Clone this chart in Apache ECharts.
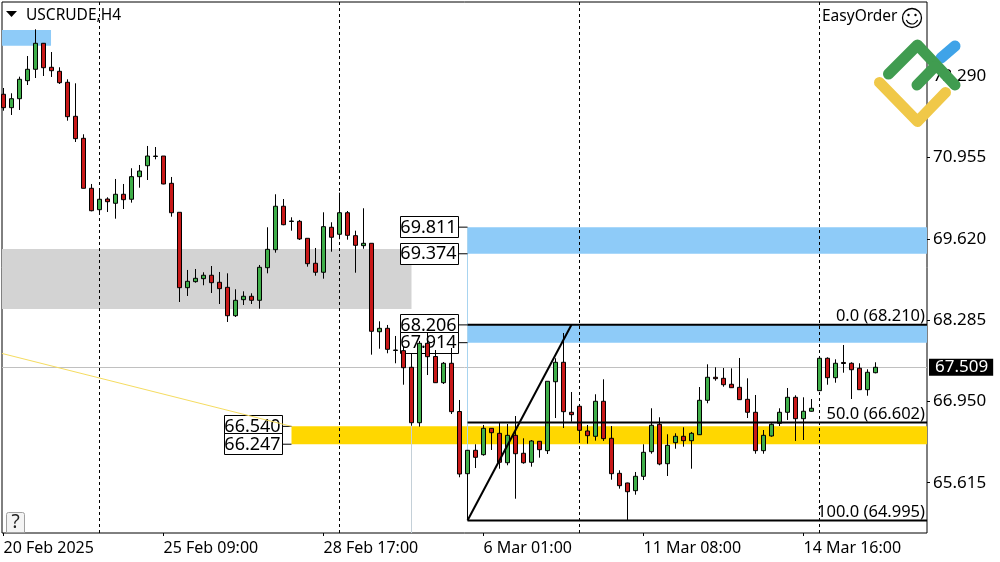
<!DOCTYPE html>
<html lang="en">
<head>
    <meta charset="UTF-8">
    <title>USCRUDE,H4</title>
    <script src="https://cdn.jsdelivr.net/npm/echarts@6/dist/echarts.min.js"></script>
    <style>
        html, body { margin: 0; padding: 0; background: #fff; }
    </style>
</head>
<body>
<div id="main" style="width: 1000px;height:562px;"></div>
<script>
    // one bar every 4 hours
    var opens = [71.993,71.773,71.920,72.216,72.403,72.830,72.436,72.370,72.190,71.631,71.270,70.449,70.098,70.273,70.203,70.351,70.269,70.640,70.820,70.971,
        70.979,70.531,70.055,68.817,68.916,68.965,69.021,68.906,68.823,68.357,68.620,68.676,68.610,69.145,69.441,70.154,69.904,69.907,69.628,69.218,
        69.070,69.809,69.694,70.048,69.671,69.507,69.546,68.094,68.150,67.786,67.783,67.510,66.600,67.904,67.687,67.257,67.576,66.784,65.763,66.147,
        66.075,66.508,66.426,65.943,66.393,66.098,65.950,66.295,66.141,67.273,67.592,66.771,66.870,66.464,66.377,66.952,66.344,65.769,65.610,65.484,
        65.720,66.124,66.574,65.927,66.272,66.377,66.305,66.403,66.968,67.346,67.329,67.231,67.181,66.984,66.771,66.141,66.382,66.590,66.771,67.017,
        66.666,66.788,67.126,67.658,67.339,67.589,67.576,67.494,67.142,67.421];
    var closes = [71.773,71.920,72.239,72.403,72.830,72.429,72.380,72.183,71.625,71.264,70.449,70.081,70.269,70.229,70.351,70.262,70.640,70.733,70.979,70.979,
        70.520,70.048,68.817,68.922,68.971,69.021,68.899,68.801,68.357,68.610,68.676,68.610,69.152,69.447,70.154,69.851,69.912,69.617,69.211,69.070,
        69.819,69.645,70.048,69.677,69.513,69.546,68.101,68.150,67.805,67.794,67.503,66.600,67.904,67.684,67.257,67.576,66.781,65.758,66.147,66.032,
        66.508,66.436,65.950,66.393,66.091,65.943,66.300,66.157,67.280,67.592,66.781,66.732,66.475,66.387,66.952,66.338,65.763,65.566,65.467,65.720,
        66.114,66.558,65.922,66.229,66.377,66.305,66.426,66.968,67.346,67.323,67.224,67.175,66.978,66.771,66.141,66.393,66.574,66.771,67.017,66.666,
        66.788,66.837,67.658,67.339,67.576,67.572,67.470,67.142,67.428,67.510];
    var lows = [71.723,71.653,71.735,72.145,72.260,72.293,72.277,72.162,71.559,71.209,70.446,70.071,70.011,70.060,69.950,70.109,70.213,70.459,70.585,70.925,
        70.515,69.983,68.582,68.681,68.899,68.857,68.730,68.549,68.254,68.336,68.533,68.549,68.472,69.053,69.392,69.842,69.753,69.600,69.162,69.014,
        68.965,69.408,69.612,69.605,69.063,69.457,67.717,67.815,67.740,67.576,67.224,66.551,66.535,67.383,67.252,67.236,66.743,65.704,65.003,65.856,
        66.058,66.152,65.845,65.901,65.352,65.927,65.878,66.026,66.086,66.677,66.513,66.617,66.272,66.255,66.305,66.300,65.664,65.517,65.003,65.418,
        65.659,66.091,65.901,65.725,66.173,66.206,65.845,66.398,66.919,67.290,67.191,67.170,66.973,66.677,66.091,66.091,66.370,66.546,66.645,66.300,
        66.316,66.781,67.121,67.224,67.257,67.421,66.989,67.137,67.043,67.411];
    var highs = [72.096,72.009,72.282,72.621,73.060,72.835,72.687,72.436,72.239,72.173,71.336,70.520,70.449,70.301,70.602,70.520,70.778,70.832,71.144,71.127,
        70.979,70.635,70.055,69.108,69.124,69.070,69.173,69.075,69.053,68.791,68.758,68.725,69.190,69.809,70.351,70.273,69.973,69.929,69.628,69.469,
        70.055,69.891,70.377,70.076,69.753,70.121,69.546,68.265,68.205,68.024,67.848,67.740,67.942,68.073,67.794,67.597,67.827,66.973,66.152,66.246,
        66.563,66.513,66.600,66.579,66.710,66.344,66.316,66.300,67.280,67.658,68.073,67.104,66.891,66.563,67.067,67.313,66.546,65.819,65.615,65.791,
        66.246,66.837,66.689,66.410,66.426,66.525,66.448,67.186,67.559,67.510,67.498,67.493,67.663,67.329,67.055,66.480,66.590,66.837,67.170,67.050,
        67.017,66.989,67.679,67.674,67.641,67.876,67.592,67.576,67.477,67.592];

    var priceTicks = [65.615, 66.950, 68.285, 69.620, 70.955, 72.290];
    var timeTickBars = [0, 20, 40, 60, 80, 100];
    var timeTickLabels = ['20 Feb 2025', '25 Feb 09:00', '28 Feb 17:00', '6 Mar 01:00', '11 Mar 08:00', '14 Mar 16:00'];
    var separatorBars = [12, 42, 72, 102];
    var lastPrice = 67.509;

    var xMin = -0.1875, xMax = 115.4375;
    var yMin = 64.789, yMax = 73.508;

    // zones: [first bar, last bar, upper price, lower price]
    var greyZones = [[xMin, 51, 69.452, 68.467]];
    var blueZones = [[xMin, 5.94, 73.048, 72.791], [58, xMax, 69.811, 69.374], [58, xMax, 68.206, 67.914]];
    var yellowZones = [[36, xMax, 66.540, 66.247]];

    // price tags at the left end of the zones
    var tagBars = [58, 58, 58, 58, 36, 36];
    var tagPrices = [69.811, 69.374, 68.206, 67.914, 66.540, 66.247];

    // fibo tool
    var fiboLevels = ['0.0', '50.0', '100.0'];
    var fiboPrices = [68.210, 66.602, 64.995];
    var fiboStartBar = 58, fiboTopBar = 71;

    var trendBars = [xMin, 36];
    var trendPrices = [67.737, 66.540];

    var labelFont = '"Noto Sans", sans-serif';

    var candleData = [];
    for (var i = 0; i < opens.length; i++) {
        candleData.push([i, opens[i], closes[i], lows[i], highs[i]]);
    }

    function zoneData(list) {
        return list.map(function (z) {
            return [{xAxis: z[0], yAxis: z[2]}, {xAxis: z[1], yAxis: z[3]}];
        });
    }

    function zoneSeries(list, color) {
        return {
            type: 'line', data: [], silent: true, z: 1,
            markArea: {silent: true, z: 1, itemStyle: {color: color}, data: zoneData(list)}
        };
    }

    function levelLine(bars, prices, color, width) {
        return {
            type: 'line', z: 4, symbol: 'none', silent: true, animation: false,
            lineStyle: {color: color, width: width},
            data: bars.map(function (b, k) { return [b, prices[k]]; })
        };
    }

    function renderTag(params, api) {
        var p = api.coord([api.value(0), api.value(1)]);
        var right = p[0] - 10;
        return {
            type: 'group',
            children: [
                {type: 'line', shape: {x1: right, y1: p[1], x2: p[0], y2: p[1]}, style: {stroke: '#000', lineWidth: 1}},
                {type: 'rect', shape: {x: Math.round(right - 58) + 0.5, y: Math.round(p[1] - 11) + 0.5, width: 58, height: 21},
                    style: {fill: '#fff', stroke: '#000', lineWidth: 1}},
                {type: 'text', style: {text: api.value(1).toFixed(3), x: right - 29, y: p[1] + 0.5, fill: '#000',
                    font: '18px ' + labelFont, align: 'center', verticalAlign: 'middle'}}
            ]
        };
    }

    function renderFiboLabel(params, api) {
        var p = api.coord([xMax, api.value(1)]);
        return {
            type: 'text',
            style: {text: fiboLevels[params.dataIndex] + ' (' + api.value(1).toFixed(3) + ')', x: p[0] - 2, y: p[1],
                fill: '#000', font: '16.5px ' + labelFont, align: 'right', verticalAlign: 'bottom'}
        };
    }

    var series = [
        zoneSeries(greyZones, '#d3d3d3'),
        zoneSeries(blueZones, '#8ecbf8'),
        zoneSeries(yellowZones, '#ffd700'),
        {
            // separators and last price line
            type: 'line', data: [], silent: true, z: 2,
            markLine: {
                silent: true, symbol: 'none', z: 2, animation: false,
                data: separatorBars.map(function (b) {
                    return {xAxis: b, lineStyle: {color: '#000', type: [3, 3], width: 1}, label: {show: false}};
                }).concat([{
                    yAxis: lastPrice, lineStyle: {color: '#c0c0c0', type: 'solid', width: 1},
                    label: {
                        show: true, position: 'end', distance: 2, formatter: lastPrice.toFixed(3),
                        color: '#fff', backgroundColor: '#000', padding: [0, 5, 0, 6],
                        fontFamily: 'Noto Sans', fontSize: 17
                    }
                }])
            }
        },
        {
            // crosshair stubs
            type: 'line', z: 2, symbol: 'none', silent: true,
            lineStyle: {color: '#c4d0d8', width: 1},
            data: [[51, lastPrice], [51, yMin]]
        },
        {
            type: 'line', z: 2, symbol: 'none', silent: true,
            lineStyle: {color: '#a8d4f0', width: 1},
            data: [[58, 69.811], [58, 66.152]]
        },
        levelLine(trendBars, trendPrices, '#f5dc60', 1),
        {
            type: 'custom', z: 2.5, silent: true, renderItem: renderTag, clip: false,
            encode: {x: 0, y: 1},
            data: tagBars.map(function (b, k) { return [b, tagPrices[k]]; })
        },
        {
            type: 'candlestick', z: 3, barWidth: 5, silent: true, animation: false,
            itemStyle: {
                color: '#3fae49', color0: '#c81818',
                borderColor: '#000', borderColor0: '#000', borderColorDoji: '#000', borderWidth: 1
            },
            data: candleData
        },
        levelLine([fiboStartBar, xMax], [fiboPrices[0], fiboPrices[0]], '#000', 2),
        levelLine([fiboStartBar, xMax], [fiboPrices[1], fiboPrices[1]], '#000', 2),
        levelLine([fiboStartBar, xMax], [fiboPrices[2], fiboPrices[2]], '#000', 2),
        levelLine([fiboStartBar, fiboTopBar], [fiboPrices[2], fiboPrices[0]], '#000', 2),
        {
            type: 'custom', z: 4, silent: true, renderItem: renderFiboLabel, clip: false,
            encode: {x: 0, y: 1},
            data: fiboPrices.map(function (v) { return [xMax, v]; })
        }
    ];

    var graphic = [
        {type: 'polygon', z: 10, shape: {points: [[6, 11], [17, 11], [11.5, 17]]}, style: {fill: '#000'}},
        {type: 'text', z: 10, style: {text: 'USCRUDE,H4', x: 26, y: 15.5, fill: '#000', font: '15.5px ' + labelFont, verticalAlign: 'middle'}},
        {type: 'text', z: 10, style: {text: 'EasyOrder', x: 822, y: 16.5, fill: '#000', font: '15.5px ' + labelFont, verticalAlign: 'middle'}},
        // smiley
        {type: 'circle', z: 10, shape: {cx: 912, cy: 18, r: 9.5}, style: {fill: 'none', stroke: '#000', lineWidth: 1.3}},
        {type: 'circle', z: 10, shape: {cx: 908.5, cy: 15, r: 1.2}, style: {fill: '#000'}},
        {type: 'circle', z: 10, shape: {cx: 915.5, cy: 15, r: 1.2}, style: {fill: '#000'}},
        {type: 'arc', z: 10, shape: {cx: 912, cy: 18, r: 6, startAngle: 0.35, endAngle: Math.PI - 0.35}, style: {fill: 'none', stroke: '#000', lineWidth: 1.2}},
        // help button
        {type: 'rect', z: 10, shape: {x: 6.5, y: 512.5, width: 18, height: 20, r: [2, 2, 0, 0]}, style: {fill: '#f4f4f4', stroke: '#a0a0a0', lineWidth: 1}},
        {type: 'text', z: 10, style: {text: '?', x: 15.5, y: 523, fill: '#222', font: '19px ' + labelFont, align: 'center', verticalAlign: 'middle'}},
        // logo
        {type: 'polyline', z: 20, shape: {points: [[941, 58], [955, 46]]}, style: {fill: 'none', stroke: '#3fa3e8', lineWidth: 11, lineCap: 'round'}},
        {type: 'polyline', z: 21, shape: {points: [[888.5, 74], [917.5, 45], [955, 85]]}, style: {fill: 'none', stroke: '#409c50', lineWidth: 11, lineCap: 'round', lineJoin: 'round'}},
        {type: 'polyline', z: 21, shape: {points: [[917, 85], [935, 66.5]]}, style: {fill: 'none', stroke: '#409c50', lineWidth: 11, lineCap: 'round'}},
        {type: 'polyline', z: 21, shape: {points: [[879.5, 82.5], [917.5, 121.5], [945.5, 92.5]]}, style: {fill: 'none', stroke: '#f0c848', lineWidth: 11, lineCap: 'round', lineJoin: 'round'}}
    ];

    var myChart = echarts.init(document.getElementById('main'));
    var option = {
        animation: false,
        backgroundColor: '#fff',
        grid: {left: 2, top: 2, right: 73, bottom: 29, show: true, borderColor: '#000', borderWidth: 1, backgroundColor: '#fff'},
        xAxis: {
            type: 'value', min: xMin, max: xMax, splitLine: {show: false},
            axisLine: {show: false, onZero: false},
            axisTick: {show: true, length: 3, customValues: timeTickBars, lineStyle: {color: '#000'}},
            axisLabel: {
                show: true, customValues: timeTickBars, align: 'left', margin: 7, color: '#000',
                fontFamily: 'Noto Sans', fontSize: 16,
                formatter: function (v) { return timeTickLabels[timeTickBars.indexOf(v)]; }
            }
        },
        yAxis: {
            type: 'value', position: 'right', min: yMin, max: yMax, scale: true, splitLine: {show: false},
            axisLine: {show: false, onZero: false},
            axisTick: {show: true, length: 3, customValues: priceTicks, lineStyle: {color: '#000'}},
            axisLabel: {
                show: true, customValues: priceTicks, margin: 6, color: '#000', padding: [3, 0, 0, 0],
                fontFamily: 'Noto Sans', fontSize: 17,
                formatter: function (v) { return v.toFixed(3); }
            }
        },
        graphic: graphic,
        series: series
    };
    myChart.setOption(option);
</script>
</body>
</html>
